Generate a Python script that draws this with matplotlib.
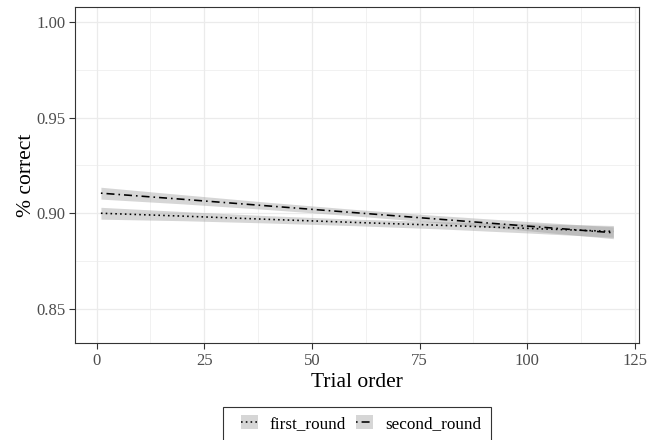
import numpy as np
import matplotlib

matplotlib.use("Agg")
import matplotlib.pyplot as plt
from matplotlib.patches import Patch, Rectangle
from matplotlib.lines import Line2D

# fitted trend
trial = [1, 20, 40, 60, 80, 100, 120]
first_round = [0.9000, 0.8985, 0.8968, 0.8952, 0.8937, 0.8921, 0.8905]
second_round = [0.9105, 0.9073, 0.9038, 0.9003, 0.8968, 0.8933, 0.8898]
half_ci = [0.0031, 0.0024, 0.0019, 0.0017, 0.0019, 0.0024, 0.0031]

series = ["first_round", "second_round"]
x_ticks = [0, 25, 50, 75, 100, 125]
y_ticks = [0.85, 0.90, 0.95, 1.00]

plt.rcParams["font.family"] = ["Liberation Serif", "DejaVu Serif"]

W, H = 659, 440
fig = plt.figure(figsize=(W / 100, H / 100), dpi=100)
ax = fig.add_axes([75.3 / W, 1 - 343.3 / H, (639 - 75.3) / W, (343.3 - 6.7) / H])

grid_c = "#ebebeb"
dash_styles = {"first_round": (0, (1, 2)), "second_round": (0, (1, 2.5, 5, 2.5))}
values = {"first_round": first_round, "second_round": second_round}

x = np.array(trial)
ci = np.array(half_ci)
handles = []
for name in series:
    y = np.array(values[name])
    ax.fill_between(x, y - ci, y + ci, color="#999999", alpha=0.4, lw=0, zorder=2)
for name in series:
    y = np.array(values[name])
    ax.plot(x, y, color="black", lw=1.15, linestyle=dash_styles[name], zorder=3)
    handles.append(
        (
            Patch(facecolor="#999999", alpha=0.4, edgecolor="none"),
            Line2D([], [], color="black", lw=1.15, linestyle=dash_styles[name]),
        )
    )

ax.set_xlim(-4.95, 125.95)
ax.set_ylim(0.832, 1.008)
ax.set_xticks(x_ticks)
ax.set_yticks(y_ticks)
ax.set_yticklabels([f"{v:.2f}" for v in y_ticks])
ax.set_xticks([12.5, 37.5, 62.5, 87.5, 112.5], minor=True)
ax.set_yticks([0.875, 0.925, 0.975], minor=True)
ax.grid(True, which="major", color=grid_c, lw=0.9, zorder=0)
ax.grid(True, which="minor", color=grid_c, lw=0.5, zorder=0)
ax.set_axisbelow(True)
ax.tick_params(which="minor", length=0)
ax.tick_params(which="major", length=4.3, width=0.8, color="#333333",
               labelsize=12, labelcolor="#4d4d4d", pad=2.5)
for s in ax.spines.values():
    s.set_color("#333333")
    s.set_linewidth(0.8)

ax.set_xlabel("Trial order", fontsize=15.5, labelpad=3)
ax.set_ylabel("% correct", fontsize=15.5, labelpad=0.5)

# legend box drawn by hand (ggplot-style wide padding, runs off the bottom)
fig.patches.append(
    Rectangle((222.7 / W, -0.05), (491 - 222.7) / W, 1 - 406.7 / H + 0.05,
              transform=fig.transFigure, facecolor="white", edgecolor="#333333",
              lw=0.8, zorder=5)
)
leg = fig.legend(
    handles,
    series,
    loc="center",
    bbox_to_anchor=(361 / W, 1 - 423.5 / H),
    ncol=2,
    fontsize=12.3,
    frameon=False,
    handlelength=1.0,
    handleheight=0.85,
    handletextpad=0.7,
    columnspacing=0.6,
    borderpad=0.0,
)
leg.set_zorder(6)

fig.savefig("out.png", dpi=100)
